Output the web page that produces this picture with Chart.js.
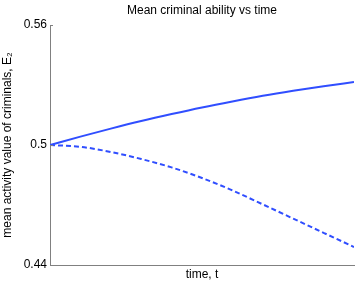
<!DOCTYPE html>
<html>
<head>
<meta charset="utf-8">
<script src="https://cdn.jsdelivr.net/npm/chart.js@4.4.1/dist/chart.umd.min.js"></script>
<style>
  html, body { margin: 0; padding: 0; background: #fff; }
  canvas { display: block; }
</style>
</head>
<body>
<canvas id="chart" width="357" height="282"></canvas>
<script>
Chart.defaults.devicePixelRatio = 1;
Chart.defaults.font.family = "'Liberation Sans', Arial, sans-serif";
Chart.defaults.color = "#000";

const timeSteps = [0, 0.1, 0.2, 0.3, 0.4, 0.5, 0.6, 0.7, 0.8, 0.9, 1.0];
const upperSeries = [0.5, 0.5042, 0.5082, 0.512, 0.5155, 0.5188, 0.5218, 0.5246, 0.5271, 0.5294, 0.5315];
const lowerSeries = [0.5, 0.4991, 0.4965, 0.493, 0.4888, 0.4835, 0.4773, 0.4703, 0.4632, 0.4561, 0.449];
const yTicks = [0.44, 0.5, 0.56];
const yTickLabels = ["0.44", "0.5", "0.56"];
const chartTitle = "Mean criminal ability vs time";

const lineColor = "rgb(48,78,255)";

function toPoints(values) {
  return values.map((v, i) => ({ x: timeSteps[i], y: v }));
}

// title centred over the plot area, plus matlab style inward ticks
const decorations = {
  id: "decorations",
  afterDraw(chart) {
    const ctx = chart.ctx;
    const area = chart.chartArea;
    const y = chart.scales.y;
    ctx.save();
    ctx.strokeStyle = "#808080";
    ctx.lineWidth = 1;
    ctx.beginPath();
    yTicks.forEach((t) => {
      const py = Math.round(y.getPixelForValue(t)) + 0.5;
      ctx.moveTo(area.left, py);
      ctx.lineTo(area.left + 3, py);
    });
    ctx.stroke();
    ctx.fillStyle = "#000";
    ctx.font = "12px 'Liberation Sans', Arial, sans-serif";
    ctx.textAlign = "center";
    ctx.textBaseline = "middle";
    ctx.fillText(chartTitle, (area.left + area.right) / 2, 11);
    ctx.restore();
  },
};

new Chart(document.getElementById("chart"), {
  type: "line",
  data: {
    datasets: [
      {
        label: "upper",
        data: toPoints(upperSeries),
        borderColor: lineColor,
        borderWidth: 2,
        pointRadius: 0,
        cubicInterpolationMode: "monotone",
        fill: false,
      },
      {
        label: "lower",
        data: toPoints(lowerSeries),
        borderColor: lineColor,
        borderWidth: 2,
        borderDash: [5, 3],
        pointRadius: 0,
        cubicInterpolationMode: "monotone",
        fill: false,
      },
    ],
  },
  options: {
    responsive: false,
    maintainAspectRatio: false,
    animation: false,
    layout: { padding: { left: 0, right: 3, top: 25, bottom: 0 } },
    plugins: {
      legend: { display: false },
      tooltip: { enabled: false },
      title: { display: false },
    },
    scales: {
      x: {
        type: "linear",
        min: 0,
        max: 1,
        grid: { display: false, drawTicks: false },
        border: { display: true, color: "#808080", width: 1 },
        ticks: { display: false },
        title: {
          display: true,
          text: "time, t",
          font: { size: 12 },
          padding: { top: 0, bottom: 0 },
        },
        afterFit(scale) {
          scale.height = 17;
        },
      },
      y: {
        min: 0.44,
        max: 0.56,
        grid: { display: false, drawTicks: false },
        border: { display: true, color: "#808080", width: 1 },
        afterBuildTicks(scale) {
          scale.ticks = yTicks.map((v) => ({ value: v }));
        },
        ticks: {
          font: { size: 12 },
          padding: 3,
          callback: (v) => yTickLabels[yTicks.indexOf(v)],
        },
        title: {
          display: true,
          text: "mean activity value of criminals, E\u2082",
          font: { size: 12 },
          padding: { top: 0, bottom: 1 },
        },
        afterFit(scale) {
          scale.width = 50;
        },
      },
    },
  },
  plugins: [decorations],
});
</script>
</body>
</html>
